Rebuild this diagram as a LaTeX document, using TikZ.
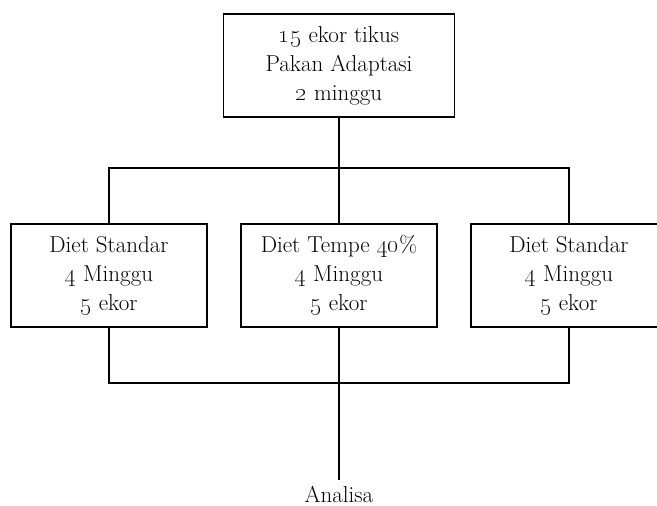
\documentclass[tikz,border=0pt]{standalone}
\usetikzlibrary{positioning}
\tikzset{x=1pt, y=-1pt,
  node distance=34pt,
  every node/.style={align=center,
    font=\fontsize{23}{29}\selectfont},
  stage/.style={ % boxes of the scheme
    draw, line width=1.2pt,
    minimum width=196pt, minimum height=103pt,
    inner sep=0pt, outer sep=0pt},
  link/.style={line width=1.1pt}}

\begin{document}
\begin{tikzpicture}
  \clip (0,0) rectangle (657,506);

  \node [stage] (qleft) at (109,275.5) {Diet Standar\\
    \oldstylenums{4} Minggu\\
    \oldstylenums{5} ekor};
  \node [stage, right=of qleft] (qmid) {Diet Tempe \oldstylenums{40}\%\\
    \oldstylenums{4} Minggu\\
    \oldstylenums{5} ekor};
  \node [stage, right=of qmid] (qright) {Diet Standar\\
    \oldstylenums{4} Minggu\\
    \oldstylenums{5} ekor};

  \node [stage, minimum width=231pt, above=107pt of qmid] (qstart) {\oldstylenums{15} ekor tikus\\
    Pakan Adaptasi\\
    \oldstylenums{2} minggu};

  \node [anchor=base, outer sep=2pt] (qend) at (339,502) {Analisa};

  % split and join points
  \coordinate (qsplit) at (339,168);
  \coordinate (qjoin) at (339,383);

  \draw [link] (qstart.south) -- (qmid.north);
  \draw [link] (qleft.north) |- (qsplit) -| (qright.north);

  \draw [link] (qleft.south) |- (qjoin) -| (qright.south);
  \draw [link] (qmid.south) -- (qend.north);
\end{tikzpicture}
\end{document}
